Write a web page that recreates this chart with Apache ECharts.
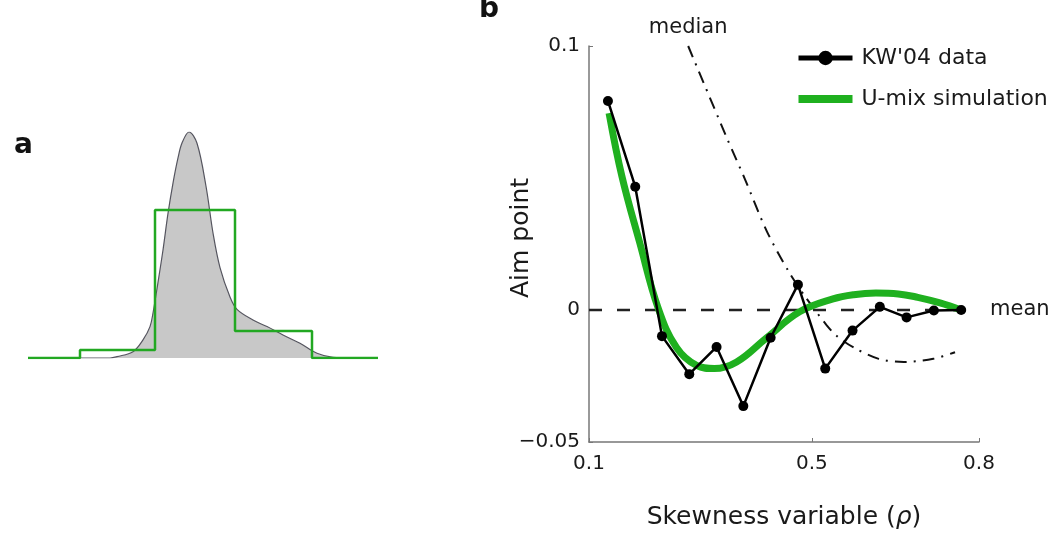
<!DOCTYPE html>
<html>
<head>
<meta charset="utf-8">
<script src="https://cdn.jsdelivr.net/npm/echarts@6/dist/echarts.min.js"></script>
<style>html,body{margin:0;padding:0;background:#fff;}#c{width:1050px;height:535px;}</style>
</head>
<body>
<div id="c"></div>
<script>
// ---- Panel b data ----
const kwRho = [0.134, 0.183, 0.231, 0.280, 0.329, 0.377, 0.426, 0.475, 0.524, 0.573, 0.622, 0.670, 0.719, 0.768];
const kwAim = [0.0792, 0.0467, -0.0099, -0.0243, -0.0140, -0.0364, -0.0105, 0.0096, -0.0222, -0.0078, 0.0012, -0.0028, -0.0002, 0.0];
const simRho = [0.136, 0.159, 0.191, 0.224, 0.257, 0.293, 0.325, 0.365, 0.419, 0.478, 0.538, 0.575, 0.615, 0.655, 0.690, 0.730, 0.768];
const simAim = [0.0746, 0.0507, 0.0255, 0.0008, -0.0142, -0.0210, -0.0222, -0.0197, -0.0105, -0.0007, 0.0042, 0.0058, 0.0064, 0.0061, 0.0048, 0.0027, 0.0];
const medRho = [0.278, 0.347, 0.380, 0.419, 0.460, 0.490, 0.526, 0.545, 0.575, 0.620, 0.665, 0.718, 0.757];
const medAim = [0.100, 0.0654, 0.0495, 0.0299, 0.0140, 0.0045, -0.0056, -0.0099, -0.0142, -0.0185, -0.0197, -0.0185, -0.0160];
const meanRho = [0.1, 0.8];
const meanAim = [0, 0];
const xTicks = [0.1, 0.5, 0.8];
const yTicks = [-0.05, 0, 0.1];

// ---- Panel a data ----
const densX = [0, 8.2, 8.9, 10.5, 11.5, 12.2, 12.5, 13.0, 13.5, 14.0, 14.5, 15.0, 15.4, 16.1, 16.9, 17.8, 18.5, 19.2, 20.2, 20.9, 22.5, 23.9, 25.5, 27.2, 28.9, 30.5, 32.2, 35];
const densY = [0, 0, 0.006, 0.028, 0.080, 0.139, 0.199, 0.335, 0.478, 0.640, 0.774, 0.885, 0.951, 1.0, 0.950, 0.760, 0.553, 0.400, 0.270, 0.215, 0.168, 0.139, 0.102, 0.065, 0.021, 0.003, 0, 0];
const binEdges = [0, 5.2, 12.7, 20.7, 28.4, 35];
const binHeights = [0, 0.035, 0.655, 0.12, 0];

const zip = (a, b) => a.map((v, i) => [v, b[i]]);
const stepPts = [];
binHeights.forEach((h, i) => { stepPts.push([binEdges[i], h]); stepPts.push([binEdges[i + 1], h]); });

const FONT = 'DejaVu Sans';
const AX = '#777';
const TXT = '#1a1a1a';
const GREEN = '#1fb01f';

const chart = echarts.init(document.getElementById('c'));
chart.setOption({
  animation: false,
  backgroundColor: '#fff',
  textStyle: { fontFamily: FONT, color: TXT },
  title: [
    { text: 'a', left: 9, top: 127, padding: 5, textStyle: { fontFamily: FONT, fontWeight: 'bold', fontSize: 28, color: '#111' } },
    { text: 'b', left: 479, top: -4, padding: 0, textStyle: { fontFamily: FONT, fontWeight: 'bold', fontSize: 28, color: '#111' } }
  ],
  legend: {
    data: [
      { name: "KW'04 data", lineStyle: { width: 5, color: '#000' } },
      { name: 'U-mix simulation', icon: 'path://M0,0L54,0L54,8L0,8Z', itemStyle: { color: GREEN } }
    ],
    orient: 'vertical',
    left: 796, top: 47,
    itemWidth: 54, itemHeight: 18, itemGap: 19,
    symbolKeepAspect: true,
    padding: 0,
    textStyle: { fontFamily: FONT, fontSize: 22, color: TXT, padding: [0, 0, 0, 4] }
  },
  grid: [
    { left: 589, top: 46, width: 390, height: 408, containLabel: false },
    { left: 28, top: 132, width: 350, height: 226, containLabel: false }
  ],
  xAxis: [
    {
      gridIndex: 0, type: 'value', min: 0.1, max: 0.8,
      axisLine: { show: true, onZero: false, lineStyle: { color: AX, width: 1.5 } },
      axisTick: { show: true, inside: true, length: 4, customValues: xTicks, lineStyle: { color: AX } },
      axisLabel: { customValues: xTicks, fontSize: 20, color: TXT, fontFamily: FONT, margin: 12, formatter: v => String(v) },
      splitLine: { show: false },
      name: 'Skewness variable ({i|ρ})', nameLocation: 'middle', nameGap: 63,
      nameTextStyle: { fontSize: 25, color: TXT, fontFamily: FONT, rich: { i: { fontStyle: 'italic', fontSize: 25, fontFamily: FONT, color: TXT } } }
    },
    { gridIndex: 1, type: 'value', min: 0, max: 35, show: false }
  ],
  yAxis: [
    {
      gridIndex: 0, type: 'value', min: -0.05, max: 0.1,
      axisLine: { show: true, onZero: false, lineStyle: { color: AX, width: 1.5 } },
      axisTick: { show: true, inside: true, length: 4, customValues: yTicks, lineStyle: { color: AX } },
      axisLabel: { customValues: yTicks, fontSize: 20, color: TXT, fontFamily: FONT, margin: 9, formatter: v => (v < 0 ? '−' + String(-v) : String(v)) },
      splitLine: { show: false },
      name: 'Aim point', nameLocation: 'middle', nameGap: 55, nameMoveOverlap: false,
      nameTextStyle: { fontSize: 25, color: TXT, fontFamily: FONT, padding: [0, 0, 0, 12] }
    },
    { gridIndex: 1, type: 'value', min: 0, max: 1, show: false }
  ],
  series: [
    {
      name: 'mean-line', type: 'line', xAxisIndex: 0, yAxisIndex: 0,
      data: zip(meanRho, meanAim), showSymbol: false, silent: true, z: 1,
      lineStyle: { color: '#222', width: 2.5, type: [13, 15] },
      endLabel: { show: true, formatter: 'mean', fontSize: 21, fontFamily: FONT, color: TXT, distance: 11 }
    },
    {
      name: 'median-line', type: 'line', xAxisIndex: 0, yAxisIndex: 0,
      data: zip(medRho, medAim), smooth: 0.3, showSymbol: false, z: 1,
      lineStyle: { color: '#111', width: 2, type: [12, 7, 2, 7] },
      markPoint: {
        symbol: 'circle', symbolSize: 0,
        data: [{ coord: [medRho[0], medAim[0]], label: { show: true, formatter: 'median', position: 'top', distance: 8, fontSize: 21, fontFamily: FONT, color: TXT } }]
      }
    },
    {
      name: 'U-mix simulation', type: 'line', xAxisIndex: 0, yAxisIndex: 0,
      data: zip(simRho, simAim), smooth: 0.4, symbol: 'none', z: 2,
      color: GREEN, lineStyle: { color: GREEN, width: 7 }
    },
    {
      name: "KW'04 data", type: 'line', xAxisIndex: 0, yAxisIndex: 0,
      data: zip(kwRho, kwAim), symbol: 'circle', symbolSize: 10, z: 3,
      color: '#000', itemStyle: { color: '#000' }, lineStyle: { color: '#000', width: 2.5 }
    },
    {
      name: 'density', type: 'line', xAxisIndex: 1, yAxisIndex: 1,
      data: zip(densX, densY), smooth: 0.35, showSymbol: false, z: 1,
      lineStyle: { color: '#55555f', width: 1.2 },
      areaStyle: { color: '#c8c8c8', opacity: 1 }
    },
    {
      name: 'bins', type: 'line', xAxisIndex: 1, yAxisIndex: 1,
      data: stepPts, showSymbol: false, z: 2,
      lineStyle: { color: '#22a822', width: 2.5 }
    }
  ]
});
</script>
</body>
</html>
